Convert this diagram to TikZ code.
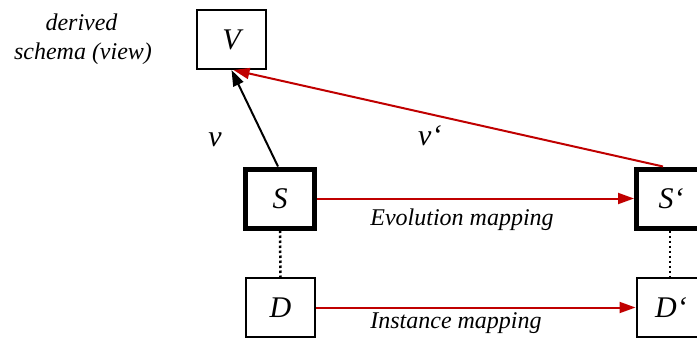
\documentclass[tikz,border=0pt]{standalone}
\usepackage{fontspec}
\setmainfont{Liberation Serif}
\usetikzlibrary{arrows.meta}
\definecolor{darkred}{RGB}{192,0,0}
\begin{document}
\begin{tikzpicture}[x=1pt,y=-1pt,
  box/.style={draw=black,line width=2pt,minimum width=69pt,minimum height=59pt,inner sep=0pt,font=\fontsize{30}{36}\selectfont\itshape},
  thickbox/.style={box,line width=5pt},
  lbl/.style={font=\fontsize{24}{29}\selectfont\itshape,inner sep=0pt},
  vlbl/.style={font=\fontsize{30}{36}\selectfont\itshape,inner sep=0pt},
  blackarrow/.style={draw=black,line width=2pt,-{Triangle[length=16pt,width=11pt]}},
  redarrow/.style={draw=darkred,line width=2pt,-{Triangle[length=16pt,width=11pt]}},
  dotline/.style={draw=black,line width=2.5pt,dash pattern=on 2.5pt off 2.5pt}
]
\useasboundingbox (0,0) rectangle (697,338);
\clip (0,0) rectangle (697,338);
\node[box] (V) at (231.5,39.5) {V};
\node[thickbox] (S) at (280,198.5) {S};
\node[thickbox] (Sp) at (671,198.5) {S‘};
\node[box] (D) at (280.5,307.5) {D};
\node[box] (Dp) at (671,307.5) {D‘};
\node[lbl,anchor=base] (derived) at (81.5,30.5) {derived};
\node[lbl,anchor=base] (schema) at (83,59) {schema (view)};
\draw[blackarrow] ([xshift=-2pt]S.north) -- (V.south);
\draw[redarrow] ([xshift=-8pt]Sp.north) -- ([xshift=2pt]V.south);
\draw[redarrow] (S.east) -- (Sp.west);
\draw[redarrow] (D.east) -- (Dp.west);
\draw[dotline] (S.south) -- (D.north);
\draw[dotline] ([xshift=-1pt]Sp.south) -- ([xshift=-1pt]Dp.north);
\node[vlbl,anchor=base] (vl) at (215,146) {v};
\node[vlbl,anchor=base west] (vpl) at (418,145) {v‘};
\node[lbl,anchor=base] (evo) at (462,225.5) {Evolution mapping};
\node[lbl,anchor=base] (inst) at (456,328) {Instance mapping};
\end{tikzpicture}
\end{document}
